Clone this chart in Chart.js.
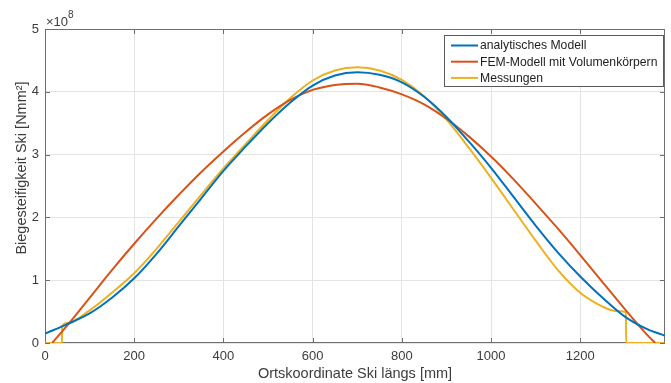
<!DOCTYPE html>
<html>
<head>
<meta charset="utf-8">
<script src="https://cdn.jsdelivr.net/npm/chart.js@4/dist/chart.umd.min.js"></script>
<style>
  html, body { margin: 0; padding: 0; background: #fff; }
  canvas { display: block; }
</style>
</head>
<body>
<canvas id="skiChart" width="671" height="383"></canvas>
<script>
// values, y in units of 1e8 Nmm^2
const analytischX = [0, 50, 100, 150, 200, 250, 300, 350, 400, 450, 500, 550, 600, 650, 700, 750, 800, 850, 900, 950, 1000, 1050, 1100, 1150, 1200, 1250, 1300, 1350, 1389];
const analytischY = [0.15, 0.30, 0.47, 0.72, 1.03, 1.42, 1.86, 2.30, 2.74, 3.13, 3.50, 3.83, 4.10, 4.26, 4.31, 4.27, 4.15, 3.92, 3.60, 3.21, 2.79, 2.33, 1.87, 1.44, 1.06, 0.72, 0.42, 0.22, 0.12];

const femX = [16, 50, 100, 150, 200, 250, 300, 350, 400, 450, 500, 550, 600, 650, 700, 750, 800, 850, 900, 950, 1000, 1050, 1100, 1150, 1200, 1250, 1300, 1350, 1368];
const femY = [0, 0.28, 0.72, 1.16, 1.58, 1.98, 2.36, 2.72, 3.05, 3.36, 3.64, 3.87, 4.03, 4.11, 4.13, 4.07, 3.96, 3.80, 3.57, 3.29, 2.97, 2.61, 2.22, 1.82, 1.40, 0.97, 0.54, 0.13, 0];

const messX = [0, 38, 38.5, 50, 100, 150, 200, 250, 300, 350, 400, 450, 500, 550, 600, 650, 700, 750, 800, 850, 900, 950, 1000, 1050, 1100, 1150, 1200, 1250, 1280, 1302.5, 1303, 1389];
const messY = [0, 0, 0.27, 0.32, 0.52, 0.80, 1.11, 1.50, 1.93, 2.36, 2.78, 3.17, 3.55, 3.90, 4.18, 4.34, 4.39, 4.34, 4.19, 3.93, 3.56, 3.11, 2.63, 2.13, 1.63, 1.16, 0.80, 0.58, 0.51, 0.49, 0, 0];

const seriesNames = ['analytisches Modell', 'FEM-Modell mit Volumenkörpern', 'Messungen'];
const seriesColors = ['#0072BD', '#D95319', '#EDB120'];

const xTicks = [0, 200, 400, 600, 800, 1000, 1200];
const yTicks = [0, 1, 2, 3, 4, 5];
const xMax = 1390;

const font = '"Liberation Sans", Arial, sans-serif';
const axisColor = '#6f6f6f';
const textColor = '#3c3c3c';

function toPoints(xs, ys) {
    return xs.map((x, i) => ({ x: x, y: ys[i] }));
}

// MATLAB style frame, inward ticks, exponent, titles and legend
const matlabLook = {
    id: 'matlabLook',
    beforeDatasetsDraw(chart) {
        const { ctx, chartArea: a, scales } = chart;
        ctx.save();
        ctx.strokeStyle = axisColor;
        ctx.lineWidth = 1;
        ctx.beginPath();
        xTicks.forEach(v => {
            const px = Math.round(scales.x.getPixelForValue(v)) + 0.5;
            ctx.moveTo(px, a.bottom); ctx.lineTo(px, a.bottom - 5);
            ctx.moveTo(px, a.top); ctx.lineTo(px, a.top + 5);
        });
        yTicks.forEach(v => {
            const py = Math.round(scales.y.getPixelForValue(v)) + 0.5;
            ctx.moveTo(a.left, py); ctx.lineTo(a.left + 5, py);
            ctx.moveTo(a.right, py); ctx.lineTo(a.right - 5, py);
        });
        ctx.stroke();
        ctx.strokeRect(Math.round(a.left) + 0.5, Math.round(a.top) + 0.5,
            Math.round(a.right - a.left) - 1, Math.round(a.bottom - a.top) - 1);
        ctx.restore();
    },
    afterDraw(chart) {
        const { ctx, chartArea: a } = chart;
        ctx.save();
        ctx.fillStyle = textColor;

        // exponent label
        ctx.textBaseline = 'middle';
        ctx.textAlign = 'left';
        ctx.font = '13px ' + font;
        ctx.fillText('\u00d710', a.left + 1, 22);
        const w = ctx.measureText('\u00d710').width;
        ctx.font = '10px ' + font;
        ctx.fillText('8', a.left + 1 + w, 15);

        // axis titles
        ctx.font = '14.5px ' + font;
        ctx.textAlign = 'center';
        ctx.fillText('Ortskoordinate Ski längs [mm]', (a.left + a.right) / 2, 374);
        ctx.save();
        ctx.translate(22, 168);
        ctx.rotate(-Math.PI / 2);
        ctx.fillText('Biegesteifigkeit Ski [Nmm\u00b2]', 0, 0);
        ctx.restore();

        // legend
        const bx = 444, by = 35, bw = 219, bh = 51;
        ctx.fillStyle = '#fff';
        ctx.fillRect(bx, by, bw, bh);
        ctx.strokeStyle = '#5a5a5a';
        ctx.lineWidth = 1;
        ctx.strokeRect(bx + 0.5, by + 0.5, bw, bh);
        ctx.font = '12.2px ' + font;
        ctx.textAlign = 'left';
        seriesNames.forEach((name, i) => {
            const y = 45.5 + i * 16.2;
            ctx.strokeStyle = seriesColors[i];
            ctx.lineWidth = 2;
            ctx.beginPath();
            ctx.moveTo(451, y);
            ctx.lineTo(478, y);
            ctx.stroke();
            ctx.fillStyle = '#1e1e1e';
            ctx.fillText(name, 480, y + 0.5);
        });
        ctx.restore();
    }
};

const datasets = [
    toPoints(analytischX, analytischY),
    toPoints(femX, femY),
    toPoints(messX, messY)
].map((pts, i) => ({
    label: seriesNames[i],
    data: pts,
    borderColor: seriesColors[i],
    backgroundColor: seriesColors[i],
    borderWidth: 2,
    pointRadius: 0,
    fill: false,
    cubicInterpolationMode: 'monotone'
}));

const chart = new Chart(document.getElementById('skiChart'), {
    type: 'line',
    data: { datasets: datasets },
    plugins: [matlabLook],
    options: {
        responsive: false,
        animation: false,
        devicePixelRatio: 1,
        layout: { padding: { top: 29, right: 6, left: 0, bottom: 0 } },
        plugins: {
            legend: { display: false },
            tooltip: { enabled: false }
        },
        scales: {
            x: {
                type: 'linear',
                min: 0,
                max: xMax,
                afterBuildTicks: s => { s.ticks = xTicks.map(v => ({ value: v })); },
                afterFit: s => { s.height = 40; },
                border: { display: false },
                grid: { color: '#e4e4e4', lineWidth: 1, drawTicks: false },
                ticks: {
                    padding: 6,
                    maxRotation: 0,
                    color: textColor,
                    font: { family: font, size: 13 },
                    callback: v => String(v)
                }
            },
            y: {
                type: 'linear',
                min: 0,
                max: 5,
                afterBuildTicks: s => { s.ticks = yTicks.map(v => ({ value: v })); },
                afterFit: s => { s.width = 45; },
                border: { display: false },
                grid: { color: '#e4e4e4', lineWidth: 1, drawTicks: false },
                ticks: {
                    padding: 6,
                    color: textColor,
                    font: { family: font, size: 13 },
                    callback: v => String(v)
                }
            }
        }
    }
});
</script>
</body>
</html>
